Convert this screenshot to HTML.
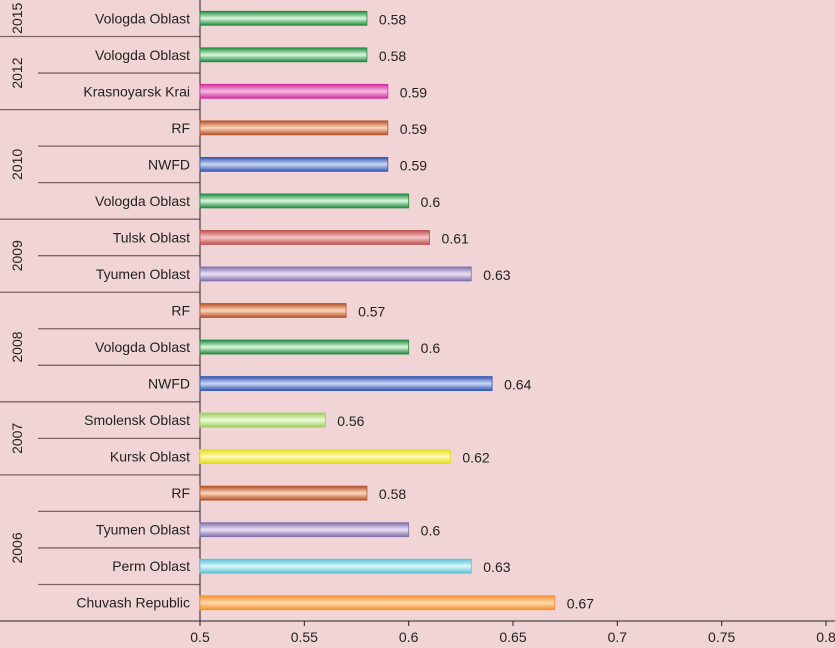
<!DOCTYPE html>
<html><head><meta charset="utf-8"><style>
body{margin:0;background:#f1d4d5;}
svg{display:block;font-family:"Liberation Sans",sans-serif;}
</style></head><body>
<svg id="chart" width="835" height="648" viewBox="0 0 835 648">
<rect width="835" height="648" fill="#f1d4d5"/>
<g id="defs-holder"></g>
<g id="grid"></g>
<g id="bars"></g>
<g id="labels"></g>
</svg>
<script>
const categories=["Vologda Oblast","Vologda Oblast","Krasnoyarsk Krai","RF","NWFD","Vologda Oblast","Tulsk Oblast","Tyumen Oblast","RF","Vologda Oblast","NWFD","Smolensk Oblast","Kursk Oblast","RF","Tyumen Oblast","Perm Oblast","Chuvash Republic"];
const values=[0.58,0.58,0.59,0.59,0.59,0.6,0.61,0.63,0.57,0.6,0.64,0.56,0.62,0.58,0.6,0.63,0.67];
const valueLabels=["0.58","0.58","0.59","0.59","0.59","0.6","0.61","0.63","0.57","0.6","0.64","0.56","0.62","0.58","0.6","0.63","0.67"];
const colorKeys=["vol","vol","kra","rf","nw","vol","tul","tyu","rf","vol","nw","smo","kur","rf","tyu","per","chu"];
const years=["2015","2012","2010","2009","2008","2007","2006"];
const yearCounts=[1,2,3,2,3,2,4];
const xTicks=[0.5,0.55,0.6,0.65,0.7,0.75,0.8];
const xTickLabels=["0.5","0.55","0.6","0.65","0.7","0.75","0.8"];
const palette={vol:["#1f8a3f","#dcf7dc"],kra:["#d0309e","#f9bce4"],rf:["#b5532a","#fcd6bc"],nw:["#3456b0","#cbd7f6"],tul:["#c05050","#f6c6c6"],tyu:["#8070a8","#ebe2f7"],smo:["#9ccc5c","#effbdc"],kur:["#e4dc18","#fffcb8"],per:["#5ac0d8","#dcf7fc"],chu:["#f59030","#fddcae"]};
const NS="http://www.w3.org/2000/svg";
const X0=200,X1=826,TOP=0,BOTTOM=621;
const rowH=(BOTTOM-TOP)/categories.length;
const xs=v=>X0+(v-0.5)/(0.8-0.5)*(X1-X0);
const ys=i=>TOP+rowH*(i+0.5);
function mk(tag,attrs,parent){const e=document.createElementNS(NS,tag);for(const k in attrs)e.setAttribute(k,attrs[k]);parent.appendChild(e);return e;}
const defs=mk('defs',{},document.getElementById('defs-holder'));
for(const k in palette){
 const g=mk('linearGradient',{id:'g-'+k,x1:0,y1:0,x2:0,y2:1},defs);
 mk('stop',{offset:'0',"stop-color":palette[k][0]},g);
 mk('stop',{offset:'0.5',"stop-color":palette[k][1]},g);
 mk('stop',{offset:'1',"stop-color":palette[k][0]},g);
}
const grid=document.getElementById('grid'),bars=document.getElementById('bars'),labels=document.getElementById('labels');
let idx=0;
years.forEach((yr,gi)=>{
 const start=idx,end=idx+yearCounts[gi];
 for(let i=start+1;i<end;i++){
  const l=mk('line',{x1:38,x2:X0,y1:TOP+rowH*i,y2:TOP+rowH*i,stroke:"#7a6464","stroke-width":1.3},grid);
  
  
 }
 if(gi>0){
  const l=mk('line',{x1:0,x2:X0,y1:TOP+rowH*start,y2:TOP+rowH*start,stroke:"#7a6464","stroke-width":1.3},grid);
  
  
 }
 const cy=TOP+rowH*(start+end)/2;
 const t=mk('text',{x:17,y:cy,"font-size":14,fill:"#222","text-anchor":"middle",transform:`rotate(-90 17 ${cy})`,"dominant-baseline":"central"},labels);
 t.textContent=yr;
 
 
 idx=end;
});
categories.forEach((c,i)=>{
 const y=ys(i);
 const w=xs(values[i])-X0;
 const r=mk('rect',{x:X0,y:y-7,width:w,height:14,fill:`url(#g-${colorKeys[i]})`,stroke:palette[colorKeys[i]][0],"stroke-width":0.8},bars);
 
 
 const t=mk('text',{x:190,y:y+5,"font-size":14,fill:"#222","text-anchor":"end"},labels);
 t.textContent=c;
 
 
 const v=mk('text',{x:xs(values[i])+12,y:y+6,"font-size":14,fill:"#222"},labels);
 v.textContent=valueLabels[i];
 
 
});
const ya=mk('line',{x1:X0,x2:X0,y1:0,y2:BOTTOM,stroke:"#222","stroke-width":1},grid);


const xa=mk('line',{x1:0,x2:835,y1:BOTTOM,y2:BOTTOM,stroke:"#222","stroke-width":1},grid);


xTicks.forEach((v,i)=>{
 const x=xs(v);
 const tk=mk('line',{x1:x,x2:x,y1:BOTTOM,y2:BOTTOM+5,stroke:"#222"},grid);
 
 
 const t=mk('text',{x:x,y:642,"font-size":14,fill:"#222","text-anchor":"middle"},labels);
 t.textContent=xTickLabels[i];
 
 
});
</script>
</body></html>
